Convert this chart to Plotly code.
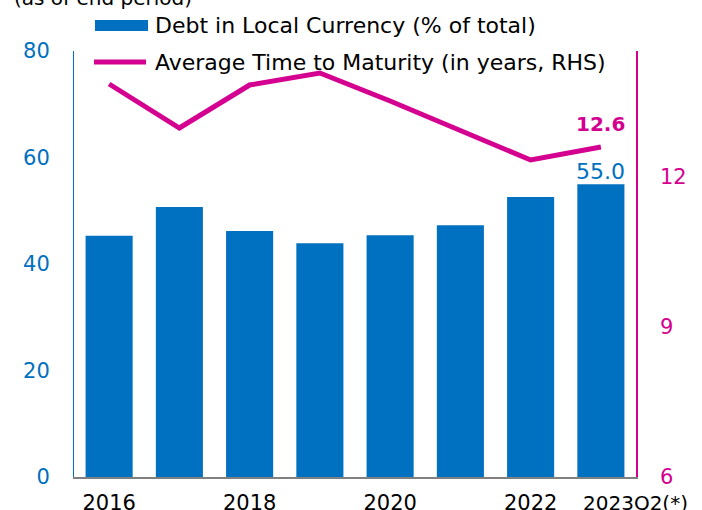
import plotly.graph_objects as go

# Data
categories = ["2016", "2017", "2018", "2019", "2020", "2021", "2022", "2023Q2(*)"]
debt_local_pct = [45.3, 50.7, 46.2, 43.9, 45.4, 47.3, 52.6, 55.0]
avg_maturity_years = [13.86, 12.98, 13.84, 14.08, 13.52, 12.94, 12.34, 12.6]
shown_ticks = ["2016", "2018", "2020", "2022"]

BLUE = "#0070C0"
MAGENTA = "#D4008F"
FONT = "DejaVu Sans"

fig = go.Figure()
fig.add_trace(go.Bar(x=categories, y=debt_local_pct, marker_color=BLUE,
                     marker_line_width=0, yaxis="y", showlegend=False))
fig.add_trace(go.Scatter(x=categories, y=avg_maturity_years, mode="lines",
                         line=dict(color=MAGENTA, width=5), yaxis="y2",
                         showlegend=False))

W, H = 702, 510
L, R, T, B = 74, 66, 51, 33
pw, ph = W - L - R, H - T - B


def px(x):
    return (x - L) / pw


def py(y):
    return (H - B - y) / ph


annotations = [
    # value labels
    dict(x=categories[-1], y=debt_local_pct[-1], xref="x", yref="y",
         text=f"{debt_local_pct[-1]:.1f}", showarrow=False, yanchor="bottom",
         yshift=-2, font=dict(color=BLUE, size=22, family=FONT)),
    dict(x=categories[-1], y=avg_maturity_years[-1], xref="x", yref="y2",
         text=f"<b>{avg_maturity_years[-1]:.1f}</b>", showarrow=False,
         yanchor="bottom", yshift=9, font=dict(color=MAGENTA, size=20, family=FONT)),
    # last category label, set on the same line as the tick labels
    dict(x=categories[-1], y=0, xref="x", yref="paper", text=categories[-1],
         showarrow=False, xanchor="left", yanchor="top", xshift=-20, yshift=-12,
         font=dict(color="black", size=20, family=FONT)),
    # legend texts
    dict(x=px(153), y=py(25), xref="paper", yref="paper", xanchor="left",
         yanchor="middle", showarrow=False, text="Debt in Local Currency (% of total)",
         font=dict(color="black", size=22, family=FONT)),
    dict(x=px(153), y=py(63), xref="paper", yref="paper", xanchor="left",
         yanchor="middle", showarrow=False,
         text="Average Time to Maturity (in years, RHS)",
         font=dict(color="black", size=22, family=FONT)),
    # subtitle at the top edge
    dict(x=px(12), y=py(12), xref="paper", yref="paper", xanchor="left",
         yanchor="bottom", showarrow=False, text="(as of end period)",
         font=dict(color="black", size=20, family=FONT)),
]

shapes = [
    dict(type="rect", xref="paper", yref="paper", x0=px(95), x1=px(148),
         y0=py(31), y1=py(20), fillcolor=BLUE, line_width=0),
    dict(type="line", xref="paper", yref="paper", x0=px(94), x1=px(146),
         y0=py(62), y1=py(62), line=dict(color=MAGENTA, width=5)),
]

fig.update_layout(
    width=W, height=H,
    margin=dict(l=L, r=R, t=T, b=B, autoexpand=False),
    paper_bgcolor="white", plot_bgcolor="white",
    bargap=0.33,
    font=dict(family=FONT),
    xaxis=dict(type="category", tickmode="array", tickvals=shown_ticks,
               ticktext=shown_ticks, showline=True, linecolor="#808080",
               linewidth=1.5, ticks="", ticklabelstandoff=6, automargin=False,
               tickfont=dict(size=21, color="black"), showgrid=False,
               range=[-0.5, 7.5]),
    yaxis=dict(range=[0, 80], tickvals=[0, 20, 40, 60, 80], showgrid=False,
               zeroline=False, showline=True, linecolor=BLUE, linewidth=1,
               ticks="", ticklabelstandoff=19, automargin=False,
               tickfont=dict(size=21, color=BLUE)),
    yaxis2=dict(range=[6, 14.52], tickvals=[6, 9, 12], overlaying="y",
                side="right", showgrid=False, zeroline=False, showline=True,
                linecolor=MAGENTA, linewidth=1.5, ticks="", automargin=False,
                ticklabelstandoff=18, tickfont=dict(size=21, color=MAGENTA)),
    annotations=annotations,
    shapes=shapes,
    showlegend=False,
)

fig.write_html("out.html")
